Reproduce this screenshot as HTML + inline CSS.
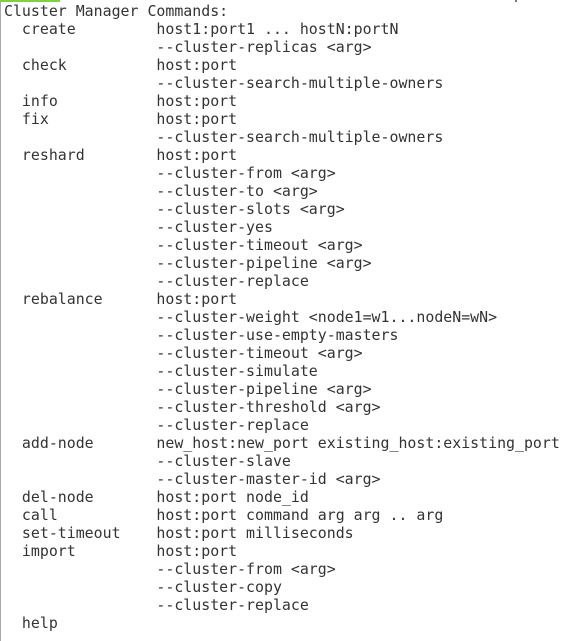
<!DOCTYPE html>
<html><head><meta charset="utf-8"><style>
html,body{margin:0;padding:0;background:#fff;width:568px;height:641px;overflow:hidden;}
.border{position:absolute;left:0;top:0;width:1px;height:641px;background:#aaa;}
.g{position:absolute;top:0;left:0;width:60px;height:2px;background:#8c4;}
.t{position:absolute;top:0;left:515px;width:2px;height:2px;background:#777;}
pre{position:absolute;left:4px;top:2px;margin:0;font-family:"DejaVu Sans Mono","Liberation Mono",monospace;font-size:14.9px;line-height:18px;color:#333;}
</style></head><body>
<div class="border"></div><div class="g"></div><div class="t"></div>
<pre>Cluster Manager Commands:
  create         host1:port1 ... hostN:portN
                 --cluster-replicas &lt;arg&gt;
  check          host:port
                 --cluster-search-multiple-owners
  info           host:port
  fix            host:port
                 --cluster-search-multiple-owners
  reshard        host:port
                 --cluster-from &lt;arg&gt;
                 --cluster-to &lt;arg&gt;
                 --cluster-slots &lt;arg&gt;
                 --cluster-yes
                 --cluster-timeout &lt;arg&gt;
                 --cluster-pipeline &lt;arg&gt;
                 --cluster-replace
  rebalance      host:port
                 --cluster-weight &lt;node1=w1...nodeN=wN&gt;
                 --cluster-use-empty-masters
                 --cluster-timeout &lt;arg&gt;
                 --cluster-simulate
                 --cluster-pipeline &lt;arg&gt;
                 --cluster-threshold &lt;arg&gt;
                 --cluster-replace
  add-node       new_host:new_port existing_host:existing_port
                 --cluster-slave
                 --cluster-master-id &lt;arg&gt;
  del-node       host:port node_id
  call           host:port command arg arg .. arg
  set-timeout    host:port milliseconds
  import         host:port
                 --cluster-from &lt;arg&gt;
                 --cluster-copy
                 --cluster-replace
  help</pre>
</body></html>
